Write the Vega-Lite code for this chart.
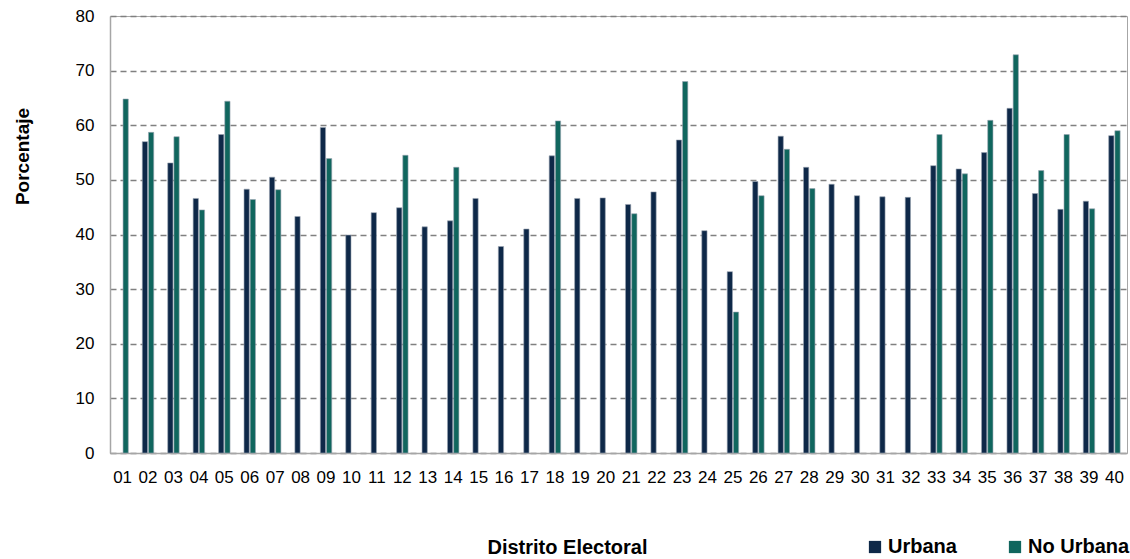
{
  "$schema": "https://vega.github.io/schema/vega-lite/v6.json",
  "width": 1017,
  "height": 437,
  "autosize": "none",
  "padding": {"left": 110, "top": 16, "right": 3, "bottom": 106},
  "background": "white",
  "config": {
    "font": "Liberation Sans",
    "view": {"stroke": "#A6A6A6", "strokeWidth": 1}
  },
  "data": {
    "values": [
      {"distrito": "01", "zona": "No Urbana", "pct": 64.8},
      {"distrito": "02", "zona": "Urbana", "pct": 57.0},
      {"distrito": "02", "zona": "No Urbana", "pct": 58.7},
      {"distrito": "03", "zona": "Urbana", "pct": 53.1},
      {"distrito": "03", "zona": "No Urbana", "pct": 57.9},
      {"distrito": "04", "zona": "Urbana", "pct": 46.6},
      {"distrito": "04", "zona": "No Urbana", "pct": 44.5},
      {"distrito": "05", "zona": "Urbana", "pct": 58.3},
      {"distrito": "05", "zona": "No Urbana", "pct": 64.4},
      {"distrito": "06", "zona": "Urbana", "pct": 48.3},
      {"distrito": "06", "zona": "No Urbana", "pct": 46.4},
      {"distrito": "07", "zona": "Urbana", "pct": 50.5},
      {"distrito": "07", "zona": "No Urbana", "pct": 48.2},
      {"distrito": "08", "zona": "Urbana", "pct": 43.3},
      {"distrito": "09", "zona": "Urbana", "pct": 59.6},
      {"distrito": "09", "zona": "No Urbana", "pct": 53.9},
      {"distrito": "10", "zona": "Urbana", "pct": 39.9},
      {"distrito": "11", "zona": "Urbana", "pct": 44.0},
      {"distrito": "12", "zona": "Urbana", "pct": 44.9},
      {"distrito": "12", "zona": "No Urbana", "pct": 54.5},
      {"distrito": "13", "zona": "Urbana", "pct": 41.4},
      {"distrito": "14", "zona": "Urbana", "pct": 42.5},
      {"distrito": "14", "zona": "No Urbana", "pct": 52.3},
      {"distrito": "15", "zona": "Urbana", "pct": 46.6},
      {"distrito": "16", "zona": "Urbana", "pct": 37.8},
      {"distrito": "17", "zona": "Urbana", "pct": 41.0},
      {"distrito": "18", "zona": "Urbana", "pct": 54.4},
      {"distrito": "18", "zona": "No Urbana", "pct": 60.8},
      {"distrito": "19", "zona": "Urbana", "pct": 46.6},
      {"distrito": "20", "zona": "Urbana", "pct": 46.7},
      {"distrito": "21", "zona": "Urbana", "pct": 45.5},
      {"distrito": "21", "zona": "No Urbana", "pct": 43.8},
      {"distrito": "22", "zona": "Urbana", "pct": 47.8},
      {"distrito": "23", "zona": "Urbana", "pct": 57.3},
      {"distrito": "23", "zona": "No Urbana", "pct": 68.0},
      {"distrito": "24", "zona": "Urbana", "pct": 40.7},
      {"distrito": "25", "zona": "Urbana", "pct": 33.2},
      {"distrito": "25", "zona": "No Urbana", "pct": 25.8},
      {"distrito": "26", "zona": "Urbana", "pct": 49.7},
      {"distrito": "26", "zona": "No Urbana", "pct": 47.1},
      {"distrito": "27", "zona": "Urbana", "pct": 58.0},
      {"distrito": "27", "zona": "No Urbana", "pct": 55.6},
      {"distrito": "28", "zona": "Urbana", "pct": 52.3},
      {"distrito": "28", "zona": "No Urbana", "pct": 48.4},
      {"distrito": "29", "zona": "Urbana", "pct": 49.2},
      {"distrito": "30", "zona": "Urbana", "pct": 47.1},
      {"distrito": "31", "zona": "Urbana", "pct": 46.9},
      {"distrito": "32", "zona": "Urbana", "pct": 46.8},
      {"distrito": "33", "zona": "Urbana", "pct": 52.6},
      {"distrito": "33", "zona": "No Urbana", "pct": 58.3},
      {"distrito": "34", "zona": "Urbana", "pct": 52.0},
      {"distrito": "34", "zona": "No Urbana", "pct": 51.1},
      {"distrito": "35", "zona": "Urbana", "pct": 55.0},
      {"distrito": "35", "zona": "No Urbana", "pct": 60.9},
      {"distrito": "36", "zona": "Urbana", "pct": 63.1},
      {"distrito": "36", "zona": "No Urbana", "pct": 72.9},
      {"distrito": "37", "zona": "Urbana", "pct": 47.5},
      {"distrito": "37", "zona": "No Urbana", "pct": 51.7},
      {"distrito": "38", "zona": "Urbana", "pct": 44.6},
      {"distrito": "38", "zona": "No Urbana", "pct": 58.3},
      {"distrito": "39", "zona": "Urbana", "pct": 46.1},
      {"distrito": "39", "zona": "No Urbana", "pct": 44.7},
      {"distrito": "40", "zona": "Urbana", "pct": 58.1},
      {"distrito": "40", "zona": "No Urbana", "pct": 59.0}
    ]
  },
  "mark": {"type": "bar", "stroke": "#9AA5B1", "strokeWidth": 0.6},
  "encoding": {
    "x": {
      "field": "distrito",
      "type": "nominal",
      "sort": null,
      "scale": {"paddingInner": 0.55, "paddingOuter": 0.27},
      "axis": {
        "title": "Distrito Electoral",
        "titleFont": "Liberation Sans",
        "titleFontSize": 20,
        "titleFontWeight": "bold",
        "titleColor": "#000000",
        "titleX": 457,
        "titleY": 94,
        "titleAnchor": "middle",
        "titleBaseline": "middle",
        "labelAngle": 0,
        "labelFontSize": 17,
        "labelColor": "#000000",
        "labelPadding": 16,
        "ticks": false,
        "domainColor": "#A6A6A6",
        "domainWidth": 1.5,
        "grid": false
      }
    },
    "xOffset": {
      "field": "zona",
      "type": "nominal",
      "sort": ["Urbana", "No Urbana"],
      "scale": {"paddingInner": 0.15, "paddingOuter": 0}
    },
    "y": {
      "field": "pct",
      "type": "quantitative",
      "scale": {"domain": [0, 80], "nice": false},
      "axis": {
        "title": "Porcentaje",
        "titleFontSize": 19,
        "titleFontWeight": "bold",
        "titleColor": "#000000",
        "titleAngle": -90,
        "titleX": -88,
        "titleY": 140,
        "titleAnchor": "middle",
        "titleBaseline": "middle",
        "values": [0, 10, 20, 30, 40, 50, 60, 70, 80],
        "labelFontSize": 17,
        "labelColor": "#000000",
        "labelPadding": 16,
        "ticks": false,
        "domainColor": "#A6A6A6",
        "domainWidth": 1.5,
        "grid": true,
        "gridColor": "#808080",
        "gridWidth": 1.5,
        "gridDash": [6, 4]
      }
    },
    "color": {
      "field": "zona",
      "type": "nominal",
      "scale": {"domain": ["Urbana", "No Urbana"], "range": ["#0E2848", "#10665E"]},
      "legend": {
        "title": null,
        "orient": "none",
        "direction": "horizontal",
        "legendX": 755,
        "legendY": 521,
        "symbolType": "square",
        "symbolSize": 150,
        "symbolStrokeWidth": 0,
        "labelFontSize": 20,
        "labelFontWeight": "bold",
        "labelColor": "#000000",
        "labelOffset": 3,
        "columnPadding": 48
      }
    }
  }
}
